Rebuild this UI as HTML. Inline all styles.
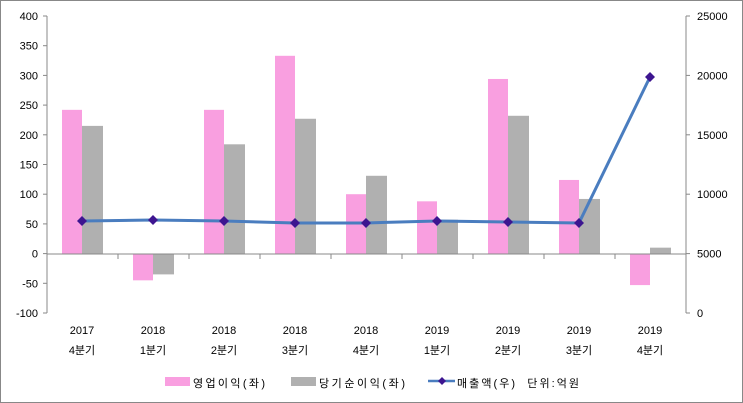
<!DOCTYPE html>
<html><head><meta charset="utf-8"><style>body{margin:0;background:#fff}svg{display:block}text{font-family:"Liberation Sans","Noto Sans CJK KR",sans-serif;font-size:11px;fill:#000}</style></head><body>
<svg width="743" height="403" xmlns="http://www.w3.org/2000/svg">
<rect x="0.5" y="0.5" width="742" height="402" fill="#fff" stroke="#888"/>
<g id="bars"></g>
<line x1="47" y1="16" x2="47" y2="313" stroke="#888"/>
<line x1="686" y1="16" x2="686" y2="313" stroke="#888"/>
<line x1="47" y1="254" x2="686" y2="254" stroke="#888"/>
<g id="ticks" stroke="#888"></g>
<g id="lab"></g>
<polyline id="ln" fill="none" stroke="#4a7dbf" stroke-width="3"/>
<g id="mk" fill="#3d1590"></g>
<rect x="165" y="377" width="25" height="9" fill="#f99fe0"/>
<text x="193" y="387" font-size="13" textLength="72">영업이익(좌)</text>
<rect x="291" y="377" width="25" height="9" fill="#b0b0b0"/>
<text x="319" y="387" font-size="13" textLength="86">당기순이익(좌)</text>
<line x1="428" y1="381" x2="455" y2="381" stroke="#4a7dbf" stroke-width="2.5"/>
<polygon points="442,377 446,381 442,385 438,381" fill="#3d1590"/>
<text x="457" y="387" font-size="13" textLength="122" xml:space="preserve">매출액(우)  단위:억원</text>
</svg>
<script>
const ns="http://www.w3.org/2000/svg";
function el(p,t,a,txt){const e=document.createElementNS(ns,t);for(const k in a)e.setAttribute(k,a[k]);if(txt!==undefined)e.textContent=txt;document.getElementById(p).appendChild(e);return e;}
const Y=v=>253.6-v*0.594, R=v=>313-v*297/25000;
const pink=[242,-45,242,333,100,88,294,124,-53],gray=[215,-35,184,227,131,57,232,92,10];
const line=[7744,7830,7744,7580,7580,7744,7660,7580,19865];
const yrs=["2017","2018","2018","2018","2018","2019","2019","2019","2019"],qs=["4분기","1분기","2분기","3분기","4분기","1분기","2분기","3분기","4분기"];
let pts=[];
for(let i=0;i<9;i++){const c=82+i*71;
 const a=Y(pink[i]),b=Y(0);el("bars","rect",{x:c-20,y:Math.min(a,b),width:20,height:Math.abs(a-b),fill:"#f99fe0"});
 const g=Y(gray[i]);el("bars","rect",{x:c,y:Math.min(g,b),width:21,height:Math.abs(g-b),fill:"#b0b0b0"});
 const ly=R(line[i]);pts.push(c+","+ly);
 el("mk","polygon",{points:`${c},${ly-5} ${c+5},${ly} ${c},${ly+5} ${c-5},${ly}`});
 el("lab","text",{x:c,y:334,"text-anchor":"middle"},yrs[i]);
 el("lab","text",{x:c,y:354,"text-anchor":"middle","font-size":"12"},qs[i]);
}
document.getElementById("ln").setAttribute("points",pts.join(" "));
for(let i=0;i<=9;i++){const x=47+i*71;el("ticks","line",{x1:x,y1:254,x2:x,y2:259});}
for(let v=-100;v<=400;v+=50){const y=Y(v);el("ticks","line",{x1:43,y1:y,x2:47,y2:y});el("lab","text",{x:38,y:y+4,"text-anchor":"end"},v);}
for(let v=0;v<=25000;v+=5000){const y=R(v);el("ticks","line",{x1:686,y1:y,x2:690,y2:y});el("lab","text",{x:697,y:y+4},v);}
</script>
</body></html>
